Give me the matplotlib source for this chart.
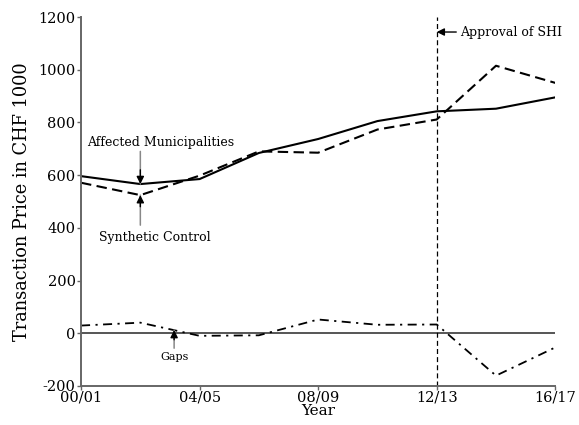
import matplotlib
matplotlib.use('Agg')
import matplotlib.pyplot as plt

# years are two-year steps, 00/01 .. 16/17
year_idx = [0, 2, 4, 6, 8, 10, 12, 14, 16]
tick_pos = [0, 4, 8, 12, 16]
tick_labels = ['00/01', '04/05', '08/09', '12/13', '16/17']

affected = [596, 566, 585, 684, 737, 805, 842, 852, 895]
synthetic = [571, 524, 598, 690, 685, 773, 811, 1015, 950]
gaps = [29, 40, -10, -8, 52, 32, 33, -161, -54]

approval_year = 12

plt.rcParams['font.family'] = 'DejaVu Serif'
plt.rcParams['axes.unicode_minus'] = False

fig = plt.figure(figsize=(5.79, 4.25), dpi=100)
ax = fig.add_axes([0.140, 0.092, 0.819, 0.868])

ax.axhline(0, color='#555555', lw=1.4, zorder=1)
ax.axvline(approval_year, color='black', lw=0.9, dashes=(4, 2.5), zorder=1)

ax.plot(year_idx, affected, color='black', lw=1.5)
ax.plot(year_idx, synthetic, color='black', lw=1.5, dashes=(5, 2.6))
ax.plot(year_idx, gaps, color='black', lw=1.3, dashes=(5, 3, 1.2, 3))

ax.set_xlim(0, 16)
ax.set_ylim(-200, 1200)
ax.set_xticks(tick_pos)
ax.set_xticklabels(tick_labels)
ax.set_yticks(range(-200, 1201, 200))

for s in ['top', 'right']:
    ax.spines[s].set_visible(False)
for s in ['left', 'bottom']:
    ax.spines[s].set_color('#666666')
    ax.spines[s].set_linewidth(1.4)
ax.tick_params(axis='both', labelsize=10.5, length=3, width=1, color='#666666', pad=1)
ax.tick_params(axis='x', pad=0)

ax.set_ylabel('Transaction Price in CHF 1000', fontsize=12.8, labelpad=5)
ax.set_xlabel('Year', fontsize=11, labelpad=0)


def pointer(tip, start, head_from):
    # gray shaft, black head
    ax.annotate('', xy=tip, xytext=start,
                arrowprops=dict(arrowstyle='-', color='#888888', lw=1.1,
                                shrinkA=0, shrinkB=0))
    ax.annotate('', xy=tip, xytext=head_from,
                arrowprops=dict(arrowstyle='-|>', color='black', lw=1,
                                mutation_scale=11, shrinkA=0, shrinkB=0))


ax.text(2.67, 725, 'Affected Municipalities', ha='center', va='center', fontsize=9)
pointer((2, affected[1]), (2, 690), (2, 620))
ax.text(2.5, 365, 'Synthetic Control', ha='center', va='center', fontsize=9)
pointer((2, synthetic[1]), (2, 410), (2, 480))
ax.text(3.14, -91, 'Gaps', ha='center', va='center', fontsize=8)
pointer((3.14, 12), (3.14, -57), (3.14, -25))
ax.annotate('Approval of SHI', xy=(approval_year, 1143), xytext=(12.8, 1143),
            ha='left', va='center', fontsize=9,
            arrowprops=dict(arrowstyle='-|>', color='black', lw=1,
                            mutation_scale=11, shrinkA=1, shrinkB=0))

fig.savefig('out.png', dpi=100)
